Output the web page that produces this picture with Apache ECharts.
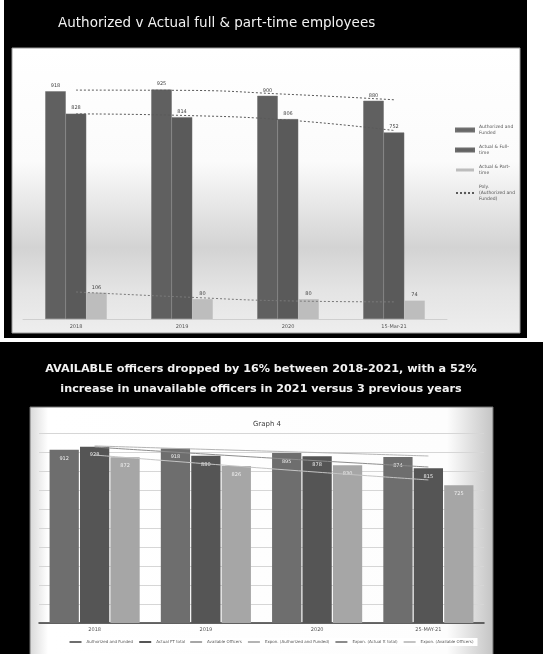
<!DOCTYPE html>
<html>
<head>
<meta charset="utf-8">
<script src="https://cdn.jsdelivr.net/npm/echarts@6/dist/echarts.min.js"></script>
<style>
  html, body { margin: 0; padding: 0; background: #fff; }
  #main { width: 543px; height: 654px; }
</style>
</head>
<body>
<div id="main"></div>
<script>
// top chart: authorized v actual employees
let topYears = ['2018', '2019', '2020', '15-Mar-21'];
let topAuthorized = [918, 925, 900, 880];
let topActualFull = [828, 814, 806, 752];
let topActualPart = [106, 80, 80, 74];
let polyAuthorized = [923, 922, 906, 884];
let polyFull = [827, 821, 802, 760];
let polyPart = [109, 89, 73, 69];

// bottom chart: graph 4
let botYears = ['2018', '2019', '2020', '25-MAY-21'];
let botAuthorized = [912, 918, 895, 874];
let botActualTotal = [928, 880, 878, 815];
let botAvailable = [872, 826, 830, 725];
let exponAuthorized = [932, 914, 897, 879];
let exponActual = [926, 889, 854, 821];
let exponAvailable = [884, 838, 794, 753];

let font = 'DejaVu Sans';

let topLegendText = {
    'Authorized and Funded': 'Authorized and\nFunded',
    'Actual & Full-time': 'Actual & Full-\ntime',
    'Actual & Part-time': 'Actual & Part-\ntime',
    'Poly. (Authorized and Funded)': 'Poly.\n(Authorized and\nFunded)'
};

let chart = echarts.init(document.getElementById('main'), null, {renderer: 'canvas'});

function trend(name, axis, data, color, dotted) {
    return {
        name: name, type: 'line', xAxisIndex: axis, yAxisIndex: axis,
        data: data, smooth: true, symbol: 'none', z: 3,
        itemStyle: {color: color},
        lineStyle: {color: color, width: 1, type: dotted ? [2, 2] : 'solid'}
    };
}

let option = {
    backgroundColor: '#ffffff',
    animation: false,
    textStyle: {fontFamily: font},
    graphic: [
        // panels
        {type: 'rect', z: -10, shape: {x: 4, y: 0, width: 523, height: 338}, style: {fill: '#000'}},
        {type: 'rect', z: -10, shape: {x: 0, y: 342, width: 543, height: 312}, style: {fill: '#000'}},
        {
            type: 'rect', z: -9,
            shape: {x: 12, y: 48, width: 508, height: 285},
            style: {
                stroke: '#9a9a9a', lineWidth: 1,
                fill: new echarts.graphic.LinearGradient(0, 0, 0, 1, [
                    {offset: 0, color: '#ffffff'},
                    {offset: 0.4, color: '#fbfbfb'},
                    {offset: 0.7, color: '#d3d3d3'},
                    {offset: 0.85, color: '#e4e4e4'},
                    {offset: 1, color: '#eeeeee'}
                ])
            }
        },
        {
            type: 'rect', z: -9,
            shape: {x: 30, y: 407, width: 463, height: 250},
            style: {
                stroke: '#707070', lineWidth: 1,
                fill: new echarts.graphic.LinearGradient(0, 0, 1, 0, [
                    {offset: 0, color: '#d8d8d8'},
                    {offset: 0.04, color: '#ffffff'},
                    {offset: 0.9, color: '#fdfdfd'},
                    {offset: 1, color: '#c4c4c4'}
                ])
            }
        }
    ],
    title: [
        {
            text: 'Authorized v Actual full & part-time employees',
            left: 53, top: 11,
            textStyle: {color: '#f2f2f2', fontSize: 13.5, fontWeight: 'normal', fontFamily: font}
        },
        {
            text: 'AVAILABLE officers dropped by 16% between 2018-2021, with a 52%\nincrease in unavailable officers in 2021 versus 3 previous years',
            left: 256, top: 354, textAlign: 'center',
            textStyle: {color: '#f2f2f2', fontSize: 11.2, fontWeight: 'bold', lineHeight: 20, fontFamily: font}
        },
        {
            text: 'Graph 4',
            left: 262, top: 416, textAlign: 'center',
            textStyle: {color: '#404040', fontSize: 7, fontWeight: 'normal', fontFamily: font}
        }
    ],
    legend: [
        {
            orient: 'vertical',
            left: 450, top: 119,
            itemWidth: 18, itemHeight: 3, itemGap: 8,
            data: [
                {name: 'Authorized and Funded', icon: 'rect', itemStyle: {color: '#606060'}},
                {name: 'Actual & Full-time', icon: 'rect', itemStyle: {color: '#5a5a5a'}},
                {name: 'Actual & Part-time', icon: 'rect', itemStyle: {color: '#bdbdbd'}},
                {name: 'Poly. (Authorized and Funded)'}
            ],
            formatter: (name) => topLegendText[name] || name,
            textStyle: {fontSize: 4.5, color: '#555', lineHeight: 6, fontFamily: font}
        },
        {
            left: 'center', top: 638,
            itemWidth: 12, itemHeight: 2, itemGap: 5,
            backgroundColor: '#ffffff',
            padding: [2, 4],
            data: [
                {name: 'Authorized and Funded ', icon: 'rect', itemStyle: {color: '#6e6e6e'}},
                {name: 'Actual FT total', icon: 'rect', itemStyle: {color: '#555555'}},
                {name: 'Available Officers'},
                {name: 'Expon. (Authorized and Funded)'},
                {name: 'Expon. (Actual ft total)'},
                {name: 'Expon. (Available Officers)'}
            ],
            textStyle: {fontSize: 4, color: '#555', fontFamily: font}
        }
    ],
    grid: [
        {left: 23, width: 424, top: 71, height: 248},
        {left: 39, width: 445, top: 433, height: 190}
    ],
    xAxis: [
        {
            gridIndex: 0, type: 'category', data: topYears,
            axisLine: {show: true, lineStyle: {color: '#cfcfcf'}},
            axisTick: {show: false},
            axisLabel: {fontSize: 5, color: '#555', margin: 5}
        },
        {
            gridIndex: 1, type: 'category', data: botYears,
            axisLine: {show: true, lineStyle: {color: '#3a3a3a', width: 1.5}},
            axisTick: {show: false},
            axisLabel: {fontSize: 5, color: '#555', margin: 4}
        }
    ],
    yAxis: [
        {gridIndex: 0, type: 'value', min: 0, max: 1000, show: false},
        {
            gridIndex: 1, type: 'value', min: 0, max: 1000, interval: 100,
            axisLine: {show: false}, axisTick: {show: false},
            axisLabel: {show: false},
            splitLine: {lineStyle: {color: '#d6d6d6'}}
        }
    ],
    series: [
        {
            name: 'Authorized and Funded', type: 'bar', xAxisIndex: 0, yAxisIndex: 0,
            data: topAuthorized, barGap: '0%', barCategoryGap: '42%',
            itemStyle: {color: '#606060', borderColor: '#707070', borderWidth: 0.5},
            label: {show: true, position: 'top', fontSize: 5, color: '#444', distance: 3}
        },
        {
            name: 'Actual & Full-time', type: 'bar', xAxisIndex: 0, yAxisIndex: 0,
            data: topActualFull, barGap: '0%', barCategoryGap: '42%',
            itemStyle: {color: '#5a5a5a', borderColor: '#6a6a6a', borderWidth: 0.5},
            label: {show: true, position: 'top', fontSize: 5, color: '#444', distance: 3}
        },
        {
            name: 'Actual & Part-time', type: 'bar', xAxisIndex: 0, yAxisIndex: 0,
            data: topActualPart, barGap: '0%', barCategoryGap: '42%',
            itemStyle: {color: '#bdbdbd'},
            label: {show: true, position: 'top', fontSize: 5, color: '#444', distance: 3}
        },
        trend('Poly. (Authorized and Funded)', 0, polyAuthorized, '#5a5a5a', true),
        trend('Poly. (Actual & Full-time)', 0, polyFull, '#5a5a5a', true),
        trend('Poly. (Actual & Part-time)', 0, polyPart, '#7a7a7a', true),
        {
            name: 'Authorized and Funded ', type: 'bar', xAxisIndex: 1, yAxisIndex: 1,
            data: botAuthorized, barGap: '4%', barCategoryGap: '19%',
            itemStyle: {color: '#6e6e6e'},
            label: {show: true, position: 'insideTop', fontSize: 5, color: '#f0f0f0', distance: 6}
        },
        {
            name: 'Actual FT total', type: 'bar', xAxisIndex: 1, yAxisIndex: 1,
            data: botActualTotal, barGap: '4%', barCategoryGap: '19%',
            itemStyle: {color: '#555555'},
            label: {show: true, position: 'insideTop', fontSize: 5, color: '#f0f0f0', distance: 6}
        },
        {
            name: 'Available Officers', type: 'bar', xAxisIndex: 1, yAxisIndex: 1,
            data: botAvailable, barGap: '4%', barCategoryGap: '19%',
            itemStyle: {color: '#a6a6a6'},
            label: {show: true, position: 'insideTop', fontSize: 5, color: '#f0f0f0', distance: 6}
        },
        trend('Expon. (Authorized and Funded)', 1, exponAuthorized, '#b4b4b4', false),
        trend('Expon. (Actual ft total)', 1, exponActual, '#8c8c8c', false),
        trend('Expon. (Available Officers)', 1, exponAvailable, '#c4c4c4', false)
    ]
};

chart.setOption(option);
</script>
</body>
</html>
